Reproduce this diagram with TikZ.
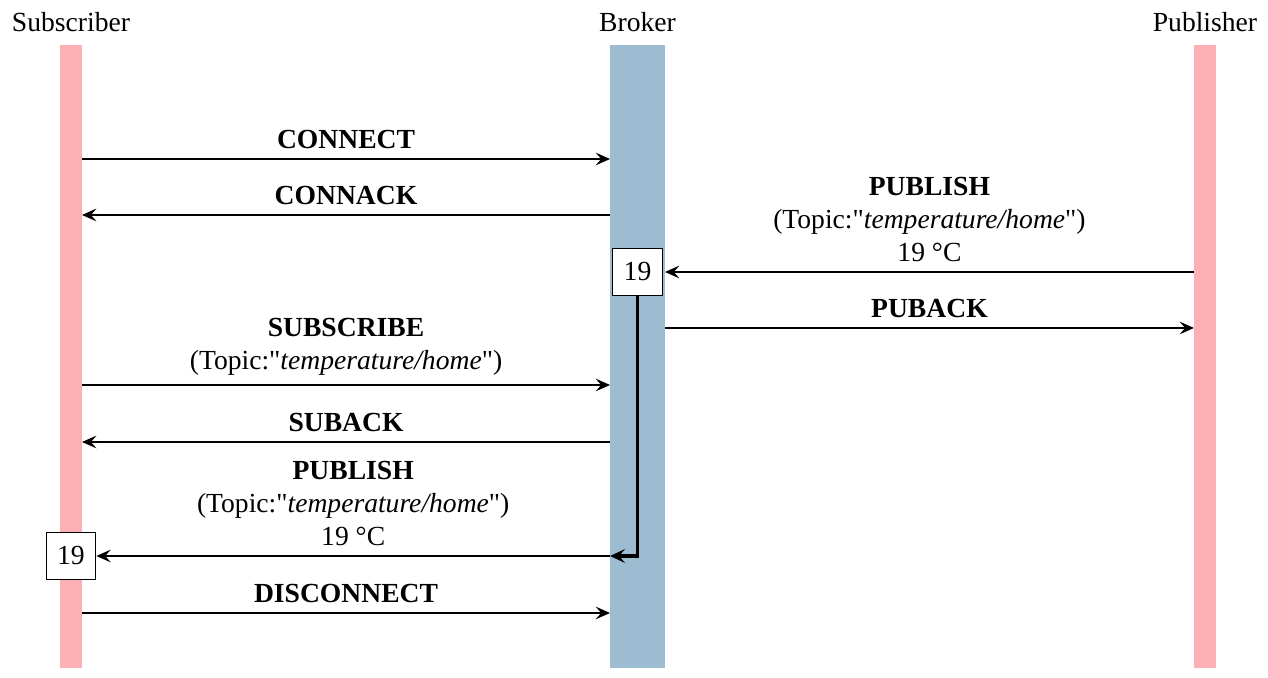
\documentclass[tikz,border=0pt]{standalone}
\usepackage{fontspec}
\setmainfont{Liberation Serif}[Ligatures=TeXOff]
\usetikzlibrary{arrows.meta, positioning}

\definecolor{subpink}{RGB}{252,176,180}
\definecolor{brokerblue}{RGB}{157,188,209}

\begin{document}
\begin{tikzpicture}[x=0.3623pt, y=-0.3623pt,
    lifeline/.style={draw=none, minimum height=225.7pt, inner sep=0pt, outer sep=0pt},
    msg/.style={-{Stealth[length=5.2pt, width=4.6pt, inset=2pt]}},
    relay/.style={line width=1.1pt, -{Stealth[length=5.4pt, width=5pt, inset=2.1pt]}},
    valbox/.style={draw, fill=white, minimum width=18pt, minimum height=17pt, inner sep=0pt},
    label/.style={above, align=center}]
  \useasboundingbox (0,0) rectangle (1268,678);

  % lifelines
  \node[lifeline, fill=subpink, minimum width=8pt] (sub) at (71,356.5) {};
  \node[lifeline, fill=brokerblue, minimum width=19.9pt] (broker) at (637.5,356.5) {};
  \node[lifeline, fill=subpink, minimum width=8pt] (pub) at (1205,356.5) {};
  \node[above=1.3pt of sub] (subname) {Subscriber};
  \node[above=1.3pt of broker] (brokername) {Broker};
  \node[above=1.3pt of pub] (pubname) {Publisher};

  % message levels
  \coordinate (m1) at (0,159);
  \coordinate (m2) at (0,215);
  \coordinate (m3) at (0,272);
  \coordinate (m4) at (0,328);
  \coordinate (m5) at (0,385);
  \coordinate (m6) at (0,442);
  \coordinate (m7) at (0,556);
  \coordinate (m8) at (0,613);

  \node[valbox] (val1) at (broker |- m3) {19};
  \node[valbox] (val2) at (sub |- m7) {19};

  \draw[msg] (sub.east |- m1) -- node[label] {\textbf{CONNECT}} (broker.west |- m1);
  \draw[msg] (broker.west |- m2) -- node[label] {\textbf{CONNACK}} (sub.east |- m2);
  \draw[msg] (pub.west |- m3) -- node[label] {\textbf{PUBLISH}\\(Topic:"\textit{temperature/home}")\\19 °C} (broker.east |- m3);
  \draw[msg] (broker.east |- m4) -- node[label] {\textbf{PUBACK}} (pub.west |- m4);
  \draw[msg] (sub.east |- m5) -- node[label] {\textbf{SUBSCRIBE}\\(Topic:"\textit{temperature/home}")} (broker.west |- m5);
  \draw[msg] (broker.west |- m6) -- node[label] {\textbf{SUBACK}} (sub.east |- m6);
  \draw[msg] (broker.west |- m7) -- node[label] {\textbf{PUBLISH}\\(Topic:"\textit{temperature/home}")\\19 °C} (val2.east);
  \draw[msg] (sub.east |- m8) -- node[label] {\textbf{DISCONNECT}} (broker.west |- m8);

  % stored value handed on
  \draw[relay] (val1.south) |- (broker.west |- m7);
\end{tikzpicture}
\end{document}
